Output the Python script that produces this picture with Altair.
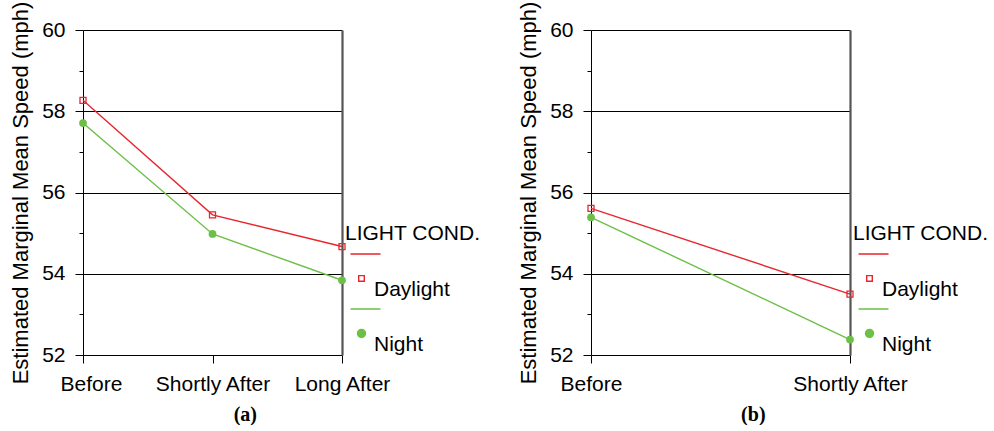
import altair as alt
import pandas as pd

# ---- data ----
periods_a = ["Before", "Shortly After", "Long After"]
daylight_a = [58.27, 55.45, 54.67]
night_a = [57.71, 54.98, 53.84]

periods_b = ["Before", "Shortly After"]
daylight_b = [55.61, 53.50]
night_b = [55.39, 52.38]

conds = ["Daylight", "Night"]
y_ticks = [52, 53, 54, 55, 56, 57, 58, 59, 60]

RED = "#e8262f"
GREEN = "#6cbf47"
FONT = "Liberation Sans"
FS = 21

# legend symbols: line segment above a marker (SPSS style)
SQ_PATH = "M-5,-36H25M3.2,-14.4H8.8V-8.8H3.2Z"
CI_PATH = "M-5,-36H25M2,-11.6A4,4 0 1 0 10,-11.6A4,4 0 1 0 2,-11.6Z"


def make_df(periods, day, night):
    rows = []
    for p, v in zip(periods, day):
        rows.append({"period": p, "cond": "Daylight", "speed": v})
    for p, v in zip(periods, night):
        rows.append({"period": p, "cond": "Night", "speed": v})
    return pd.DataFrame(rows)


def panel(periods, day, night, label, before_offset):
    df = make_df(periods, day, night)
    x = alt.X(
        "period:N",
        sort=periods,
        scale=alt.Scale(type="point", padding=0),
        axis=alt.Axis(
            title=None, labelAngle=0, grid=False, domainColor="black",
            tickColor="black", tickSize=8, labelPadding=10, labelFont=FONT,
            labelFontSize=FS, labelColor="black",
            labelOffset={"condition": {"test": "datum.value === 'Before'", "value": before_offset}, "value": 0},
        ),
    )
    yscale = alt.Scale(domain=[52, 60], nice=False, zero=False)
    yaxis = alt.Axis(
        title="Estimated Marginal Mean Speed (mph)", values=y_ticks,
        tickSize={"condition": {"test": "datum.value % 2 === 0", "value": 8}, "value": 4},
        labelExpr="datum.value % 2 === 0 ? datum.label : ''",
        grid=True, gridColor="black", gridWidth=1.2,
        gridOpacity={"condition": {"test": "datum.value % 2 === 0 && datum.value > 52", "value": 1}, "value": 0},
        domainColor="black", tickColor="black", labelPadding=10, titlePadding=9,
        labelFont=FONT, labelFontSize=FS, labelColor="black",
        titleFont=FONT, titleFontSize=22, titleFontWeight="normal", titleColor="black",
    )
    y_main = alt.Y("speed:Q", scale=yscale, axis=yaxis)
    y_none = alt.Y("speed:Q", scale=yscale, axis=None)

    base = alt.Chart(df)
    day_f = alt.datum.cond == "Daylight"
    night_f = alt.datum.cond == "Night"

    line_day = base.transform_filter(day_f).mark_line(color=RED, strokeWidth=1.4).encode(x=x, y=y_main)
    line_night = base.transform_filter(night_f).mark_line(color=GREEN, strokeWidth=1.4).encode(x=x, y=y_none)
    pts_day = base.transform_filter(day_f).mark_point(
        shape="square", filled=False, color=RED, size=36, strokeWidth=1.3, opacity=1
    ).encode(x=x, y=y_none)
    pts_night = base.transform_filter(night_f).mark_circle(color=GREEN, size=60, opacity=1).encode(x=x, y=y_none)

    leg = alt.Legend(
        title="LIGHT COND.", orient="none", legendX=262, legendY=192.5,
        direction="vertical", columns=1, symbolSize=4, symbolStrokeWidth=1.4,
        symbolOpacity=1, labelOffset=8, rowPadding=5, titlePadding=36, padding=0,
        titleFont=FONT, titleFontSize=FS, titleFontWeight="normal", titleColor="black",
        labelFont=FONT, labelFontSize=FS, labelColor="black", labelBaseline="middle",
    )
    legend_layer = base.mark_point(opacity=0).encode(
        x=x,
        y=alt.Y("speed:Q", scale=yscale, axis=alt.Axis(
            orient="right", labels=False, ticks=False, title=None, grid=False,
            domainColor="#555555", domainWidth=2.2)),
        shape=alt.Shape("cond:N", scale=alt.Scale(domain=conds, range=[SQ_PATH, CI_PATH]), legend=leg),
        stroke=alt.Stroke("cond:N", scale=alt.Scale(domain=conds, range=[RED, GREEN]), legend=leg),
        fill=alt.Fill("cond:N", scale=alt.Scale(domain=conds, range=["white", GREEN]), legend=leg),
    )

    return alt.layer(line_day, line_night, pts_day, pts_night, legend_layer).resolve_axis(
        y="independent"
    ).properties(
        width=259, height=325,
        title=alt.TitleParams(text=label, orient="bottom", anchor="middle", frame="bounds",
                              font="Liberation Serif", fontSize=20, fontWeight="bold",
                              color="black", offset=11),
    )


pa = panel(periods_a, daylight_a, night_a, "(a)", 8)
pb = panel(periods_b, daylight_b, night_b, "(b)", 0)

chart = alt.hconcat(pa, pb, spacing=36).resolve_scale(
    shape="independent", stroke="independent", fill="independent"
).resolve_legend(
    shape="independent", stroke="independent", fill="independent"
).properties(
    padding={"left": 9, "top": 1, "right": 0, "bottom": 0},
    background="white",
).configure_view(stroke=None)

chart.save("out.html", embed_options={"renderer": "svg", "actions": False})
